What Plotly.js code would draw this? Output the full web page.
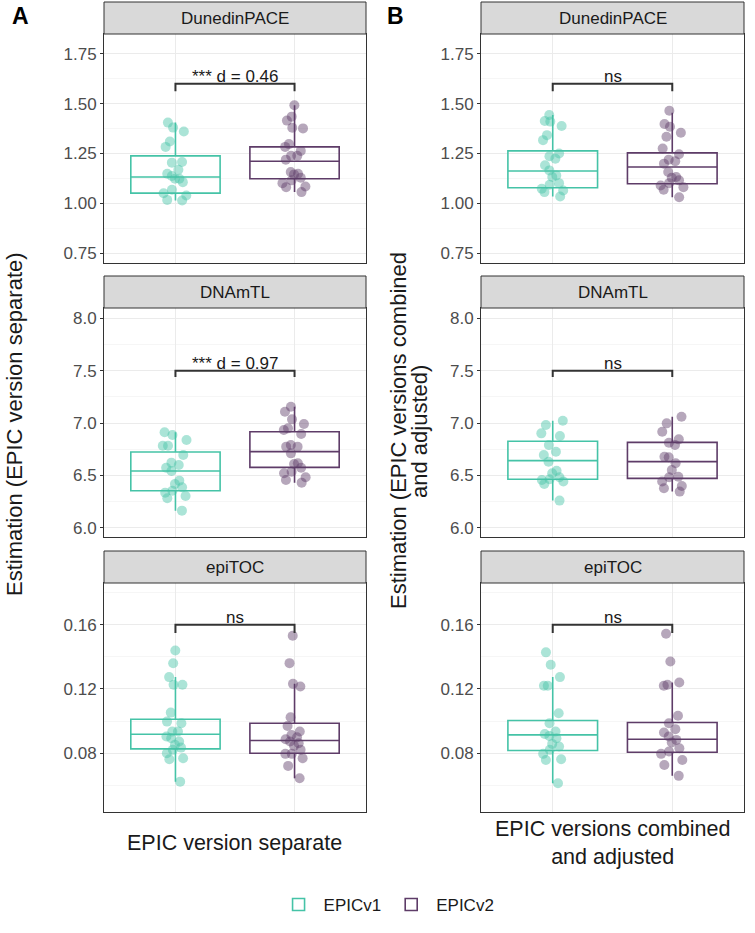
<!DOCTYPE html>
<html><head><meta charset="utf-8">
<script src="https://cdn.plot.ly/plotly-3.0.1.min.js"></script>
<style>html,body{margin:0;padding:0;background:#fff}#chart{width:755px;height:933px}</style>
</head><body><div id="chart"></div>
<script>
// ---------- DATA ----------
const panels = ['DunedinPACE', 'DNAmTL', 'epiTOC'];
const groups = ['EPICv1', 'EPICv2'];
const columnLetters = ['A', 'B'];
const yTitleA = 'Estimation (EPIC version separate)';
const yTitleBLines = ['Estimation (EPIC versions combined', 'and adjusted)'];
const xTitles = ['EPIC version separate', 'EPIC versions combined<br>and adjusted'];

// jittered sample points
const A_DunedinPACE_EPICv1 = [1.405,1.38,1.36,1.31,1.283,1.207,1.204,1.168,1.148,1.137,1.123,1.123,1.106,1.068,1.05,1.039,1.017,1.014];
const A_DunedinPACE_EPICv2 = [1.492,1.435,1.415,1.376,1.379,1.297,1.283,1.263,1.238,1.238,1.219,1.157,1.145,1.128,1.101,1.081,1.084,1.056,1.148,1.115];
const B_DunedinPACE_EPICv1 = [1.443,1.413,1.41,1.388,1.342,1.317,1.236,1.224,1.25,1.191,1.165,1.14,1.132,1.101,1.093,1.073,1.056,1.034,1.064];
const B_DunedinPACE_EPICv2 = [1.465,1.398,1.384,1.354,1.334,1.275,1.246,1.211,1.199,1.219,1.157,1.132,1.128,1.115,1.101,1.089,1.068,1.03,1.081];
const A_DNAmTL_EPICv1 = [6.911,6.885,6.837,6.783,6.783,6.694,6.621,6.599,6.573,6.541,6.449,6.417,6.385,6.353,6.334,6.302,6.28,6.162];
const A_DNAmTL_EPICv2 = [7.156,7.108,7.035,6.99,6.933,6.949,6.895,6.79,6.774,6.774,6.71,6.615,6.608,6.573,6.535,6.519,6.481,6.455,6.43];
const B_DNAmTL_EPICv1 = [7.022,6.981,6.901,6.876,6.79,6.726,6.694,6.63,6.544,6.519,6.481,6.462,6.44,6.417,6.455,6.258];
const B_DNAmTL_EPICv2 = [7.06,6.997,6.917,6.844,6.812,6.79,6.672,6.678,6.615,6.551,6.481,6.487,6.44,6.398,6.376,6.344];
const A_epiTOC_EPICv1 = [0.144,0.136,0.1274,0.1226,0.1226,0.1053,0.0997,0.0987,0.0935,0.0935,0.0904,0.0893,0.0873,0.0852,0.0835,0.0821,0.08,0.0769,0.0763,0.0623];
const A_epiTOC_EPICv2 = [0.1531,0.1361,0.1232,0.1216,0.1024,0.097,0.0935,0.0914,0.09,0.0887,0.0873,0.0862,0.0846,0.0821,0.0796,0.0796,0.0769,0.0721,0.0644];
const B_epiTOC_EPICv1 = [0.1428,0.1351,0.1274,0.122,0.122,0.1049,0.0987,0.0935,0.092,0.0908,0.0893,0.0858,0.0842,0.0821,0.0796,0.0758,0.0763,0.0613];
const B_epiTOC_EPICv2 = [0.1544,0.1371,0.1226,0.124,0.122,0.1033,0.0987,0.095,0.0929,0.0904,0.0883,0.0867,0.0831,0.0811,0.0796,0.0758,0.0727,0.0659];

// box statistics [EPICv1, EPICv2] per panel row
const A_q1 = [[1.051,1.123],[6.353,6.576],[0.0827,0.0800]];
const A_median = [[1.132,1.211],[6.541,6.726],[0.0918,0.0879]];
const A_q3 = [[1.238,1.283],[6.723,6.917],[0.1012,0.0987]];
const A_lower = [[1.014,1.056],[6.162,6.430],[0.0623,0.0644]];
const A_upper = [[1.405,1.492],[6.911,7.156],[0.1274,0.1232]];
const B_q1 = [[1.078,1.098],[6.462,6.471],[0.0817,0.0806]];
const B_median = [[1.162,1.182],[6.640,6.631],[0.0914,0.0887]];
const B_q3 = [[1.263,1.253],[6.825,6.815],[0.1004,0.0991]];
const B_lower = [[1.034,1.030],[6.258,6.344],[0.0613,0.0659]];
const B_upper = [[1.443,1.455],[7.022,7.060],[0.1274,0.1240]];

// significance brackets
const bracketY = [1.60, 7.50, 0.160];
const bracketDrop = [0.038, 0.06, 0.0052];
const A_labels = ['*** d = 0.46', '*** d = 0.97', 'ns'];
const B_labels = ['ns', 'ns', 'ns'];

// axis ticks
const yTickVals = [[0.75,1.00,1.25,1.50,1.75],[6.0,6.5,7.0,7.5,8.0],[0.08,0.12,0.16]];
const yTickText = [['0.75','1.00','1.25','1.50','1.75'],['6.0','6.5','7.0','7.5','8.0'],['0.08','0.12','0.16']];
const yMinorVals = [[0.875,1.125,1.375,1.625],[6.25,6.75,7.25,7.75],[0.06,0.10,0.14,0.18]];
const yRanges = [[0.70,1.85],[5.91,8.10],[0.0434,0.186]];

// ---------- BUILD ----------
const W = 755, H = 933;
const FONT = 'Liberation Sans, Arial, Helvetica, sans-serif';
const lineCol = ['#45C3A7', '#5E3C68'];
const ptCol = ['rgba(69,195,167,0.45)', 'rgba(94,60,104,0.45)'];
const colX = [[104,366],[481,744]];
const rowY = [[34,263],[308,537],[583,812]];
const stripH = 32;

const pts = {
  A: [[A_DunedinPACE_EPICv1,A_DunedinPACE_EPICv2],[A_DNAmTL_EPICv1,A_DNAmTL_EPICv2],[A_epiTOC_EPICv1,A_epiTOC_EPICv2]],
  B: [[B_DunedinPACE_EPICv1,B_DunedinPACE_EPICv2],[B_DNAmTL_EPICv1,B_DNAmTL_EPICv2],[B_epiTOC_EPICv1,B_epiTOC_EPICv2]]
};
const stats = {
  A: {q1:A_q1, median:A_median, q3:A_q3, lower:A_lower, upper:A_upper},
  B: {q1:B_q1, median:B_median, q3:B_q3, lower:B_lower, upper:B_upper}
};
const labels = {A: A_labels, B: B_labels};

const data = [];
const layout = {
  width: W, height: H,
  margin: {l:0, r:0, t:0, b:0},
  paper_bgcolor: '#fff', plot_bgcolor: '#fff',
  font: {family: FONT, color: '#1a1a1a'},
  showlegend: true,
  legend: {orientation:'h', x:0.512, xanchor:'center', y:0.03, yanchor:'middle',
           font:{size:17, family:FONT, color:'#1a1a1a'}, itemwidth:40, tracegroupgap:0},
  shapes: [], annotations: []
};

for (let c = 0; c < 2; c++) {
  const col = columnLetters[c];
  for (let r = 0; r < 3; r++) {
    const idx = r*2 + c + 1;
    const xa = idx === 1 ? 'x' : 'x' + idx;
    const ya = idx === 1 ? 'y' : 'y' + idx;
    const xk = idx === 1 ? 'xaxis' : 'xaxis' + idx;
    const yk = idx === 1 ? 'yaxis' : 'yaxis' + idx;
    const dx = [colX[c][0]/W, colX[c][1]/W];
    const dy = [1 - rowY[r][1]/H, 1 - rowY[r][0]/H];
    layout[xk] = {domain: dx, anchor: ya, range: [0.4, 2.6], tickvals: [1,2], showticklabels: false,
      ticks: '', showgrid: true, gridcolor: '#EBEBEB', gridwidth: 1, zeroline: false,
      showline: true, mirror: true, linecolor: '#333333', linewidth: 1, fixedrange: true};
    layout[yk] = {domain: dy, anchor: xa, range: yRanges[r], tickvals: yTickVals[r], ticktext: yTickText[r],
      ticks: 'outside', ticklen: 3, tickcolor: '#333333', tickwidth: 1,
      tickfont: {size: 17, color: '#4D4D4D', family: FONT},
      showgrid: true, gridcolor: '#EBEBEB', gridwidth: 1, zeroline: false,
      minor: {tickvals: yMinorVals[r], showgrid: true, gridcolor: '#F2F2F2', gridwidth: 0.7, ticks: ''},
      showline: true, mirror: true, linecolor: '#333333', linewidth: 1, fixedrange: true};

    for (let g = 0; g < 2; g++) {
      const s = stats[col];
      data.push({
        type: 'box', xaxis: xa, yaxis: ya, x: [g+1],
        q1: [s.q1[r][g]], median: [s.median[r][g]], q3: [s.q3[r][g]],
        lowerfence: [s.lower[r][g]], upperfence: [s.upper[r][g]],
        width: 0.75, boxpoints: false, whiskerwidth: 0,
        line: {color: lineCol[g], width: 1.6}, fillcolor: 'rgba(255,255,255,0)',
        name: groups[g], legendgroup: groups[g], showlegend: idx === 1, hoverinfo: 'skip'
      });
    }
    for (let g = 0; g < 2; g++) {
      data.push({
        type: 'box', xaxis: xa, yaxis: ya, x0: g+1, y: pts[col][r][g],
        width: 0.75, boxpoints: 'all', jitter: 0.32, pointpos: 0, whiskerwidth: 0,
        line: {color: 'rgba(0,0,0,0)', width: 0}, fillcolor: 'rgba(0,0,0,0)',
        marker: {color: ptCol[g], size: 10, line: {width: 0}},
        name: groups[g], legendgroup: groups[g], showlegend: false, hoverinfo: 'skip'
      });
    }
    // bracket
    data.push({
      type: 'scatter', mode: 'lines', xaxis: xa, yaxis: ya,
      x: [1, 1, 2, 2],
      y: [bracketY[r]-bracketDrop[r], bracketY[r], bracketY[r], bracketY[r]-bracketDrop[r]],
      line: {color: '#333333', width: 2}, showlegend: false, hoverinfo: 'skip'
    });
    layout.annotations.push({
      x: 1.5, y: bracketY[r], xref: xa, yref: ya, text: labels[col][r], showarrow: false,
      yanchor: 'bottom', yshift: -4, font: {size: 17, family: FONT, color: '#1a1a1a'}
    });
    // strip
    const sTop = rowY[r][0] - stripH;
    layout.shapes.push({type: 'rect', xref: 'paper', yref: 'paper',
      x0: dx[0], x1: dx[1], y0: 1 - rowY[r][0]/H, y1: 1 - sTop/H,
      fillcolor: '#D9D9D9', line: {color: '#333333', width: 1}, layer: 'above'});
    layout.annotations.push({x: (dx[0]+dx[1])/2, y: 1 - (sTop + stripH/2)/H, xref: 'paper', yref: 'paper',
      text: panels[r], showarrow: false, xanchor: 'center', yanchor: 'middle',
      font: {size: 17, family: FONT, color: '#1a1a1a'}});
  }
}

// column letters
layout.annotations.push({x: 20/W, y: 1 - 16/H, xref:'paper', yref:'paper', text:'<b>A</b>', showarrow:false,
  xanchor:'center', yanchor:'middle', font:{size:23, family:FONT, color:'#000'}});
layout.annotations.push({x: 396/W, y: 1 - 16/H, xref:'paper', yref:'paper', text:'<b>B</b>', showarrow:false,
  xanchor:'center', yanchor:'middle', font:{size:23, family:FONT, color:'#000'}});
// y titles
layout.annotations.push({x: 14/W, y: 1 - 424/H, xref:'paper', yref:'paper', text: yTitleA, textangle:-90,
  showarrow:false, xanchor:'center', yanchor:'middle', font:{size:22, family:FONT, color:'#1a1a1a'}});
layout.annotations.push({x: 398/W, y: 1 - 431/H, xref:'paper', yref:'paper', text: yTitleBLines[0], textangle:-90,
  showarrow:false, xanchor:'center', yanchor:'middle', font:{size:22, family:FONT, color:'#1a1a1a'}});
layout.annotations.push({x: 419/W, y: 1 - 432/H, xref:'paper', yref:'paper', text: yTitleBLines[1], textangle:-90,
  showarrow:false, xanchor:'center', yanchor:'middle', font:{size:22, family:FONT, color:'#1a1a1a'}});
// x titles
layout.annotations.push({x: 235/W, y: 1 - 843/H, xref:'paper', yref:'paper', text: xTitles[0],
  showarrow:false, xanchor:'center', yanchor:'middle', font:{size:21.5, family:FONT, color:'#1a1a1a'}});
layout.annotations.push({x: 612/W, y: 1 - 843/H, xref:'paper', yref:'paper', text: xTitles[1],
  showarrow:false, xanchor:'center', yanchor:'middle', font:{size:21.5, family:FONT, color:'#1a1a1a'}});

Plotly.newPlot('chart', data, layout, {displayModeBar: false, staticPlot: true});
</script>
</body></html>
